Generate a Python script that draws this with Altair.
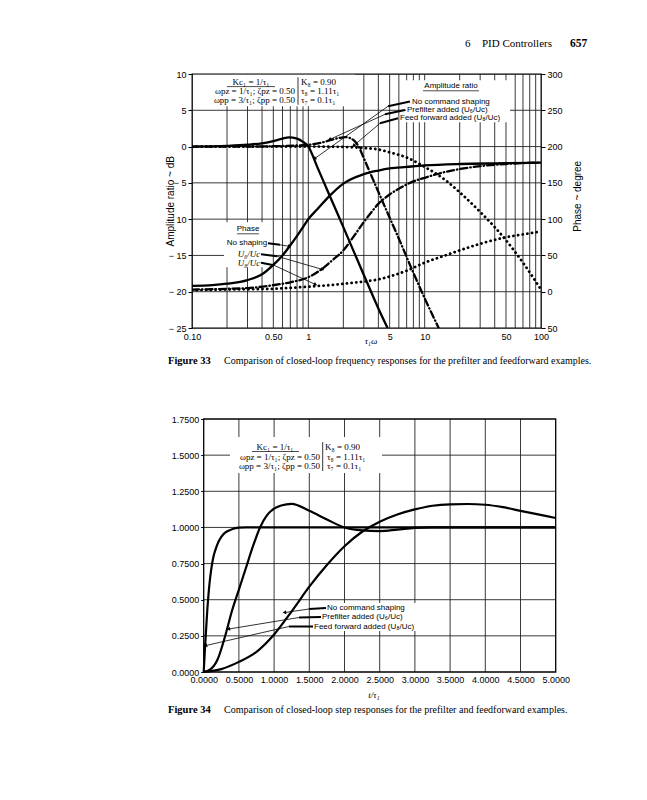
import math
import altair as alt
import pandas as pd

# ---------------- Figure 33 : closed-loop frequency responses ----------------
w_grid = [0.2, 0.3, 0.4, 0.5, 0.6, 0.7, 0.8, 0.9, 1, 2, 3, 4, 5, 6, 7, 8, 9, 10,
          20, 30, 40, 50, 60, 70, 80, 90]
db_grid = [-20, -15, -10, -5, 0, 5]
w_ticks = [0.1, 0.5, 1, 5, 10, 50, 100]
db_ticks = [-25, -20, -15, -10, -5, 0, 5, 10]
deg_ticks = [-50, 0, 50, 100, 150, 200, 250, 300]

amp_none_w = [0.1, 0.2, 0.3, 0.4, 0.5, 0.6, 0.68, 0.8, 0.9, 1.0, 1.2, 1.5, 2.0, 3.0, 4.0, 4.8]
amp_none_db = [0.0, 0.1, 0.25, 0.45, 0.75, 1.1, 1.28, 1.1, 0.65, 0.0, -2.9, -6.5, -11.1, -17.7, -22.3, -25.0]

amp_pre_w = [0.1, 0.3, 0.5, 1.0, 1.3, 1.6, 1.85, 2.07, 2.3, 2.5, 2.71, 3.0, 3.5, 4.3, 5.0, 6.0, 8.0, 10.0, 13.2]
amp_pre_db = [0.0, 0.0, 0.05, 0.25, 0.55, 0.95, 1.2, 1.3, 1.15, 0.75, 0.0, -1.6, -4.1, -7.4, -9.8, -12.7, -17.4, -20.9, -25.0]

amp_ff_w = [0.1, 0.5, 1, 2, 3, 4, 5, 7, 10, 15, 20, 30, 40, 50, 70, 100]
amp_ff_db = [0, 0, 0, -0.05, -0.2, -0.4, -0.8, -1.5, -2.8, -4.6, -6.3, -9.0, -11.1, -12.9, -16.0, -19.7]

ph_none_w = [0.1, 0.15, 0.2, 0.3, 0.4, 0.5, 0.6, 0.7, 0.8, 0.9, 1.0, 1.2, 1.5, 2, 3, 4, 5, 7, 10, 20, 50, 100]
ph_none_deg = [8, 9, 11, 16, 24, 37, 50, 64, 77, 89, 100, 114, 131, 149, 162, 167, 170, 172, 174, 176, 177, 178]

ph_pre_w = [0.1, 0.2, 0.3, 0.5, 0.7, 1, 1.3, 1.6, 2, 2.5, 3, 3.5, 4, 5, 6, 8, 10, 15, 20, 30, 50, 100]
ph_pre_deg = [3, 4, 5, 9, 13, 20, 31, 43, 57, 78, 96, 110, 121, 134, 142, 152, 157, 165, 169, 173, 176, 178]

ph_ff_w = [0.1, 0.2, 0.5, 1, 1.5, 2, 3, 4, 5, 7, 10, 15, 20, 30, 50, 70, 100]
ph_ff_deg = [2, 3, 4, 7, 9, 11, 14, 17, 21, 29, 40, 50, 57, 66, 75, 79, 83]

# ---------------- Figure 34 : closed-loop step responses ----------------
t_grid = [0.5, 1.0, 1.5, 2.0, 2.5, 3.0, 3.5, 4.0, 4.5]
v_grid = [0.25, 0.5, 0.75, 1.0, 1.25, 1.5]
t_ticks = [0, 0.5, 1.0, 1.5, 2.0, 2.5, 3.0, 3.5, 4.0, 4.5, 5.0]
v_ticks = [0, 0.25, 0.5, 0.75, 1.0, 1.25, 1.5, 1.75]

step_none_t = [0, 0.25, 0.5, 0.75, 1.0, 1.25, 1.5, 1.75, 2.0, 2.25, 2.5, 2.75, 3.0, 3.25, 3.5,
               3.75, 4.0, 4.25, 4.5, 4.75, 5.0]
step_none_v = [0, 0.02, 0.07, 0.14, 0.26, 0.42, 0.59, 0.74, 0.87, 0.97, 1.04, 1.09, 1.125, 1.15,
               1.16, 1.162, 1.157, 1.14, 1.115, 1.09, 1.065]

step_pre_t = [0, 0.1, 0.2, 0.3, 0.4, 0.5, 0.6, 0.7, 0.8, 0.9, 1.0, 1.1, 1.25, 1.5, 1.75, 2.0,
              2.25, 2.5, 2.75, 3.0, 3.25, 3.5, 4.0, 4.5, 5.0]
step_pre_v = [0, 0.02, 0.09, 0.24, 0.42, 0.57, 0.72, 0.87, 1.0, 1.085, 1.13, 1.152, 1.163, 1.115,
              1.055, 1.0, 0.98, 0.975, 0.985, 0.997, 1.0, 1.0, 1.0, 1.0, 1.0]

step_ff_t = [0, 0.02, 0.05, 0.08, 0.11, 0.14, 0.17, 0.2, 0.25, 0.3, 0.4, 0.5, 0.6, 1.0, 2.0, 3.0, 4.0, 5.0]
step_ff_v = [0, 0.18, 0.42, 0.6, 0.72, 0.8, 0.85, 0.89, 0.935, 0.962, 0.987, 0.998, 1.0, 1.0, 1.0, 1.0, 1.0, 1.0]

# ---------------- layout helpers (page pixel coordinates) ----------------
SANS = "Liberation Sans"
SERIF = "Liberation Serif"
O1 = (190.0, 72.7)     # page position of Figure 33 plot origin
O2 = (190.0, 415.0)    # page position of Figure 34 view origin (frame starts 11.7 px further right)
W1, H1 = 349, 254
F2 = 11.7              # inset of the Figure 34 frame inside its view
PX2 = 70.4             # pixels per unit t in Figure 34
W2, H2 = 364, 253
one = pd.DataFrame({"k": [0]})


def T(o, x, y, s, size=9.0, font=SANS, align="left", style="normal", weight="normal", angle=None):
    kw = dict(align=align, baseline="middle", fontSize=size, font=font,
              fontStyle=style, fontWeight=weight, color="black")
    if angle is not None:
        kw["angle"] = angle
    return alt.Chart(one).mark_text(**kw).encode(
        x=alt.value(x - o[0]), y=alt.value(y - o[1]), text=alt.value(s))


def L(o, x1, y1, x2, y2, w=0.8):
    return alt.Chart(one).mark_rule(color="black", strokeWidth=w).encode(
        x=alt.value(x1 - o[0]), y=alt.value(y1 - o[1]),
        x2=alt.value(x2 - o[0]), y2=alt.value(y2 - o[1]))


def A(o, x1, y1, x2, y2, size=16):
    ang = math.degrees(math.atan2(x2 - x1, -(y2 - y1))) % 360
    return alt.Chart(one).mark_point(shape="triangle", filled=True, size=size, color="black",
                                     opacity=1, angle=ang).encode(
        x=alt.value(x2 - o[0]), y=alt.value(y2 - o[1]))


def B(o, x1, y1, x2, y2):
    return alt.Chart(one).mark_rect(color="white", opacity=1).encode(
        x=alt.value(x1 - o[0]), x2=alt.value(x2 - o[0]),
        y=alt.value(y1 - o[1]), y2=alt.value(y2 - o[1]))


def anchor(o, x, y):
    return alt.Chart(one).mark_point(size=1, opacity=0, filled=True).encode(
        x=alt.value(x - o[0]), y=alt.value(y - o[1]))


# ---------------- Figure 33 panel ----------------
xs1 = alt.Scale(type="log", domain=[0.1, 100], nice=False)
xax1 = alt.Axis(values=w_ticks, title=None, ticks=False, domain=False, grid=False,
                labelPadding=4, labelFont=SANS, labelFontSize=9, labelColor="black",
                labelFlush=False,
                labelExpr="datum.value < 0.2 ? '0.10' : datum.value < 0.9 ? '0.50' : format(datum.value, 'd')")
ys_db = alt.Scale(domain=[-25, 10], nice=False, zero=False)
yax_db = alt.Axis(values=db_ticks, orient="left", title=None, tickSize=4, tickColor="black",
                  domain=False, grid=False, labelFont=SANS, labelFontSize=9, labelColor="black",
                  labelPadding=2, labelFlush=False,
                  labelExpr="datum.value < 0 ? '\u2212 ' + abs(datum.value) : datum.label")
ys_deg = alt.Scale(domain=[-50, 300], nice=False, zero=False)
yax_deg = alt.Axis(values=deg_ticks, orient="right", title=None, tickSize=4, tickColor="black",
                   domain=False, grid=False, labelFont=SANS, labelFontSize=9, labelColor="black",
                   labelPadding=2, labelFlush=False,
                   labelExpr="datum.value < 0 ? '50' : datum.label")
X1 = alt.X("w:Q", scale=xs1, axis=xax1)


def curve1(w, v, field, scale, axis, dash=None, width=2.2):
    df = pd.DataFrame({"w": w, field: v})
    mk = dict(color="black", strokeWidth=width, interpolate="monotone", clip=True)
    if dash:
        mk["strokeDash"] = dash
        mk["strokeCap"] = "round"
    return alt.Chart(df).mark_line(**mk).encode(
        x=X1, y=alt.Y(f"{field}:Q", scale=scale, axis=axis))


vgrid1 = alt.Chart(pd.DataFrame({"w": w_grid})).mark_rule(color="#222", strokeWidth=0.9).encode(x=X1)
hgrid1 = alt.Chart(pd.DataFrame({"db": db_grid})).mark_rule(color="#222", strokeWidth=0.9).encode(
    y=alt.Y("db:Q", scale=ys_db, axis=yax_db))

DOT = [0.1, 4.6]
DASHDOT = [7, 3, 0.5, 3]

p1_layers = [
    anchor(O1, 8, 8), anchor(O1, 8, 380),
    vgrid1, hgrid1,
    B(O1, 191, 73.5, 353, 105), B(O1, 404, 79, 508, 121), B(O1, 222, 221, 269, 266),
    curve1(amp_none_w, amp_none_db, "db", ys_db, None, width=2.3),
    curve1(amp_pre_w, amp_pre_db, "db", ys_db, None, dash=DASHDOT, width=2.3),
    curve1(amp_ff_w, amp_ff_db, "db", ys_db, None, dash=DOT, width=2.8),
    curve1(ph_none_w, ph_none_deg, "deg", ys_deg, yax_deg, width=2.3),
    curve1(ph_pre_w, ph_pre_deg, "deg", ys_deg, None, dash=DASHDOT, width=2.3),
    curve1(ph_ff_w, ph_ff_deg, "deg", ys_deg, None, dash=DOT, width=2.8),
    # parameter block
    T(O1, 249, 80.5, "Kc\u2081 = 1/\u03c4\u2081", 9, SERIF, "center"),
    L(O1, 225, 85.3, 273, 85.3, 0.7),
    T(O1, 293, 90, "\u03c9pz = 1/\u03c4\u2081; \u03b6pz = 0.50", 9, SERIF, "right"),
    T(O1, 293, 98.5, "\u03c9pp = 3/\u03c4\u2081; \u03b6pp = 0.50", 9, SERIF, "right"),
    L(O1, 296, 76, 296, 103.5, 0.8),
    T(O1, 299, 80.5, "K\u2088 = 0.90", 9, SERIF),
    T(O1, 299, 90, "\u03c4\u2088 = 1.11\u03c4\u2081", 9, SERIF),
    T(O1, 299, 98.5, "\u03c4\u2087 = 0.1\u03c4\u2081", 9, SERIF),
    # amplitude legend
    T(O1, 449, 85, "Amplitude ratio", 8, SANS, "center"),
    L(O1, 421, 89.5, 477, 89.5, 0.7),
    T(O1, 410, 100.3, "No command shaping", 8),
    T(O1, 405, 108.6, "Prefilter added (U\u2086/Uc)", 8),
    T(O1, 398, 117, "Feed forward added (U\u2088/Uc)", 8),
    L(O1, 408, 100.3, 386, 105, 2.0), L(O1, 386, 105, 313, 157, 0.8), A(O1, 386, 105, 313, 157),
    L(O1, 403, 108.6, 383, 113, 2.0), L(O1, 383, 113, 328, 138, 0.8), A(O1, 383, 113, 328, 138),
    L(O1, 396, 117, 378, 122, 2.0), L(O1, 378, 122, 352, 144, 0.8), A(O1, 378, 122, 352, 144),
    # phase legend
    T(O1, 246, 228, "Phase", 8, SANS, "center"),
    L(O1, 235, 232.5, 257, 232.5, 0.7),
    T(O1, 245, 242, "No shaping", 8, SANS, "center"),
    T(O1, 247, 253, "U\u2086/Uc", 9, SERIF, "center", "italic"),
    T(O1, 247, 261.5, "U\u2088/Uc", 9, SERIF, "center", "italic"),
    L(O1, 266, 242, 278, 243.5, 2.0), L(O1, 278, 243.5, 287, 245, 0.8), A(O1, 278, 243.5, 287, 245),
    L(O1, 259, 253, 275, 255, 2.0), L(O1, 275, 255, 320, 268, 0.8), A(O1, 275, 255, 320, 268),
    L(O1, 259, 261.5, 272, 264, 2.0), L(O1, 272, 264, 313, 283, 0.8), A(O1, 272, 264, 313, 283),
    # axis titles, running head and caption
    T(O1, 169, 200, "Amplitude ratio ~ dB", 10, SANS, "center", angle=270),
    T(O1, 576, 195, "Phase ~ degree", 10, SANS, "center", angle=270),
    T(O1, 369, 340, "\u03c4\u2081\u03c9", 9, SERIF, "center", "italic"),
    T(O1, 463, 43, "6", 11, SERIF),
    T(O1, 480, 43, "PID Controllers", 11, SERIF),
    T(O1, 568, 43, "657", 11.5, SERIF, weight="bold"),
    T(O1, 166, 360, "Figure 33", 10.5, SERIF, weight="bold"),
    T(O1, 222, 360, "Comparison of closed-loop frequency responses for the prefilter and feedforward examples.", 10, SERIF),
]
panel1 = (alt.layer(*p1_layers).resolve_scale(y="independent")
          .properties(width=W1, height=H1, view=alt.ViewBackground(stroke="black", strokeWidth=1.3)))

# ---------------- Figure 34 panel ----------------
xs2 = alt.Scale(domain=[-F2 / PX2, (W2 - F2) / PX2], nice=False, zero=False)
ys2 = alt.Scale(domain=[0, 1.75], nice=False, zero=False)
xax2 = alt.Axis(values=t_ticks, format=".4f", title=None, ticks=False, domain=False, grid=False,
                labelPadding=3, labelFont=SANS, labelFontSize=9, labelColor="black", labelFlush=False)
yax2 = alt.Axis(values=v_ticks, format=".4f", title=None, tickSize=3, tickColor="black",
                domain=False, grid=False, labelPadding=2, labelFont=SANS, labelFontSize=9,
                labelColor="black", labelFlush=False, offset=-F2)
X2 = alt.X("t:Q", scale=xs2, axis=xax2)
Y2 = alt.Y("v:Q", scale=ys2, axis=yax2)
T0 = alt.XDatum(t_ticks[0], scale=xs2, axis=xax2)
T1 = alt.X2Datum(t_ticks[-1])


def curve2(t, v):
    df = pd.DataFrame({"t": t, "v": v})
    return alt.Chart(df).mark_line(color="black", strokeWidth=2.2, interpolate="monotone").encode(x=X2, y=Y2)


vgrid2 = alt.Chart(pd.DataFrame({"t": t_grid})).mark_rule(color="#222", strokeWidth=0.9).encode(x=X2)
hgrid2 = alt.Chart(pd.DataFrame({"v": v_grid})).mark_rule(color="#222", strokeWidth=0.9).encode(
    y=Y2, x=T0, x2=T1)
frame2 = alt.Chart(one).mark_rect(fillOpacity=0, stroke="black", strokeWidth=1.3).encode(
    x=T0, x2=T1, y=alt.YDatum(v_ticks[0], scale=ys2, axis=yax2), y2=alt.Y2Datum(v_ticks[-1]))

p2_layers = [
    anchor(O2, 8, 380),
    vgrid2, hgrid2,
    B(O2, 228, 433, 380, 469), B(O2, 309, 599, 417, 627),
    curve2(step_none_t, step_none_v),
    curve2(step_pre_t, step_pre_v),
    curve2(step_ff_t, step_ff_v),
    frame2,
    T(O2, 273, 443, "Kc\u2081 = 1/\u03c4\u2081", 9, SERIF, "center"),
    L(O2, 250, 447.5, 297, 447.5, 0.7),
    T(O2, 318, 452.7, "\u03c9pz = 1/\u03c4\u2081; \u03b6pz = 0.50", 9, SERIF, "right"),
    T(O2, 318, 461.7, "\u03c9pp = 3/\u03c4\u2081; \u03b6pp = 0.50", 9, SERIF, "right"),
    L(O2, 320.7, 438, 320.7, 467, 0.8),
    T(O2, 323, 443, "K\u2088 = 0.90", 9, SERIF),
    T(O2, 325, 452.7, "\u03c4\u2088 = 1.11\u03c4\u2081", 9, SERIF),
    T(O2, 325, 461.7, "\u03c4\u2087 = 0.1\u03c4\u2081", 9, SERIF),
    T(O2, 325, 604, "No command shaping", 8),
    T(O2, 320, 613, "Prefilter added (U\u2086/Uc)", 8),
    T(O2, 312, 622.5, "Feed forward added (U\u2088/Uc)", 8),
    L(O2, 324, 604, 307, 605, 2.0), L(O2, 307, 605, 283, 608.5, 0.8), A(O2, 307, 605, 283, 608.5),
    L(O2, 319, 613, 297, 613.5, 2.0), L(O2, 297, 613.5, 227, 625, 0.8), A(O2, 297, 613.5, 227, 625),
    L(O2, 311, 622.5, 287, 622.5, 2.0), L(O2, 287, 622.5, 204, 641.5, 0.8), A(O2, 287, 622.5, 204, 641.5),
    T(O2, 372, 691, "t/\u03c4\u2081", 9, SERIF, "center", "italic"),
    T(O2, 166, 706, "Figure 34", 10.5, SERIF, weight="bold"),
    T(O2, 222, 706, "Comparison of closed-loop step responses for the prefilter and feedforward examples.", 10, SERIF),
]
panel2 = (alt.layer(*p2_layers)
          .properties(width=W2, height=H2, view=alt.ViewBackground(stroke="transparent")))

chart = (
    alt.vconcat(panel1, panel2, spacing=0)
    .properties(padding=0)
)
chart.save("out.html", embed_options={"renderer": "svg", "actions": False})
